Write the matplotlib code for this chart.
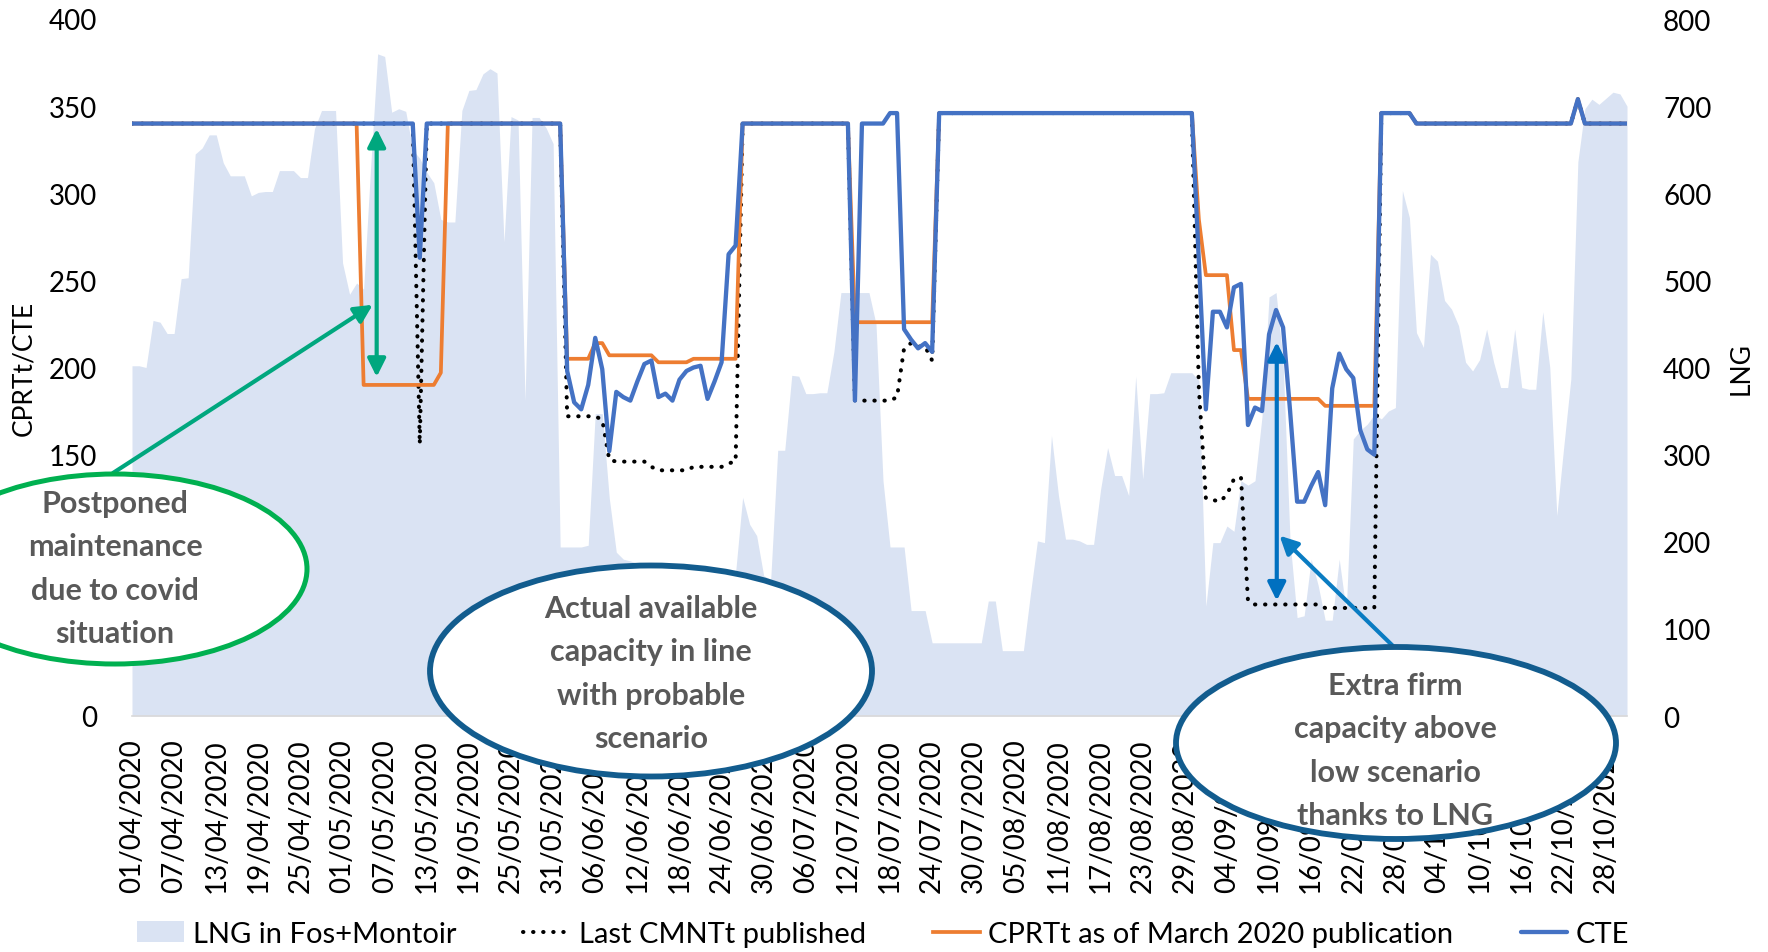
import numpy as np
import pandas as pd
import matplotlib
matplotlib.use("Agg")
import matplotlib.pyplot as plt
from matplotlib.patches import Ellipse

plt.rcParams['font.family'] = ['Lato', 'DejaVu Sans']

# daily data, 01/04/2020 -> 31/10/2020
dates = pd.date_range('2020-04-01', '2020-10-31', freq='D')

# LNG in Fos+Montoir (right axis)
lng = [402, 402, 400, 454, 452, 439, 439, 502, 503, 645,
       652, 667, 667, 635, 620, 620, 620, 597, 601, 602,
       602, 626, 626, 626, 618, 618, 674, 695, 695, 695,
       520, 484, 497, 490, 630, 760, 757, 693, 697, 694,
       650, 640, 624, 612, 570, 567, 567, 695, 718, 719,
       737, 743, 738, 544, 688, 684, 362, 687, 687, 675,
       657, 194, 194, 194, 194, 196, 347, 347, 250, 188,
       180, 178, 175, 160, 150, 140, 130, 120, 120, 110,
       110, 120, 130, 140, 150, 160, 165, 251, 220, 207,
       161, 157, 305, 305, 391, 390, 370, 370, 371, 371,
       418, 486, 486, 486, 486, 486, 450, 270, 194, 194,
       194, 121, 121, 121, 84, 84, 84, 84, 84, 84,
       84, 84, 132, 132, 75, 75, 75, 75, 140, 201,
       199, 322, 253, 203, 203, 201, 197, 197, 260, 308,
       276, 276, 253, 390, 272, 370, 370, 371, 394, 394,
       394, 394, 385, 126, 199, 199, 218, 212, 270, 265,
       270, 344, 481, 486, 407, 200, 113, 115, 180, 150,
       110, 110, 180, 120, 318, 328, 335, 346, 341, 350,
       354, 603, 572, 440, 423, 530, 522, 477, 467, 448,
       406, 396, 409, 444, 406, 377, 377, 444, 377, 375,
       375, 464, 400, 230, 310, 387, 636, 697, 708, 702,
       709, 716, 714, 700]

# Last CMNTt published
cmnt = ([340] * 41 + [156] + [340] * 20
        + [172, 172, 172, 172, 172, 170]
        + [147, 146, 146, 146, 146, 146, 143]
        + [141] * 5 + [143] * 5 + [145, 146]
        + [340] * 16 + [181] * 6 + [183]
        + [211, 214, 212, 212, 204]
        + [346] * 37
        + [188, 125, 124, 123, 127, 136, 137, 66]
        + [64] * 10 + [62] * 8
        + [346] * 5 + [340] * 23 + [354] + [340] * 7)

# CPRTt as of March 2020 publication
cprt = ([340] * 33 + [190] * 11 + [197] + [340] * 17
        + [205] * 4 + [214] * 2 + [207] * 7 + [203] * 5 + [205] * 7
        + [340] * 16 + [226] * 12 + [346] * 37
        + [285] + [253] * 4 + [210] * 2 + [182] * 11 + [178] * 8
        + [346] * 5 + [340] * 23 + [354] + [340] * 7)

# CTE
cte = ([340] * 41 + [263] + [340] * 20
       + [198, 180, 176, 190, 217, 199, 152, 186, 183, 181,
          192, 202, 204, 183, 185, 181, 193, 198, 200, 201,
          182, 192, 203, 265, 270]
       + [340] * 16 + [181] + [340] * 4 + [346] * 2
       + [222, 216, 211, 214, 209]
       + [346] * 37
       + [261, 176, 232, 232, 223, 246, 248, 167, 177, 175,
          219, 233, 223, 175, 123, 123, 132, 140, 121, 188,
          208, 199, 194, 164, 153, 150]
       + [346] * 5 + [340] * 23 + [354] + [340] * 7)

left_ticks = [0, 50, 100, 150, 200, 250, 300, 350, 400]
# 50 and 100 sit behind the green callout in the original
left_labels = ['0', '', '', '150', '200', '250', '300', '350', '400']

x = np.arange(len(dates))
W, H = 1768, 953

fig = plt.figure(figsize=(W / 100, H / 100), dpi=100)
ax = fig.add_axes([132 / W, 236 / H, 1495 / W, 697 / H])
ax2 = ax.twinx()
ax.set_zorder(2)
ax.patch.set_visible(False)

area = ax2.fill_between(x, lng, color='#DAE3F3', lw=0, label='LNG in Fos+Montoir')
l_cmnt, = ax.plot(x, cmnt, color='black', lw=2.9, linestyle=(0, (0.1, 2.4)),
                  dash_capstyle='round', label='Last CMNTt published')
l_cprt, = ax.plot(x, cprt, color='#ED7D31', lw=2.7,
                  label='CPRTt as of March 2020 publication')
l_cte, = ax.plot(x, cte, color='#4472C4', lw=3.1, solid_capstyle='round', label='CTE')

ax.set_xlim(0, len(x) - 1)
ax.set_ylim(0, 400)
ax2.set_ylim(0, 800)
ax.set_yticks(left_ticks)
ax.set_yticklabels(left_labels)
ax2.set_yticks(range(0, 801, 100))
ax.set_xticks(x[::6])
ax.set_xticklabels(dates[::6].strftime('%d/%m/%Y'), rotation=90)

for s in ax.spines.values():
    s.set_visible(False)
for s in ax2.spines.values():
    s.set_visible(False)
ax.spines['bottom'].set_visible(True)
ax.spines['bottom'].set_color('#D9D9D9')
ax.spines['bottom'].set_linewidth(1.2)

ax.tick_params(axis='x', length=0, labelsize=20, pad=16)
ax.tick_params(axis='y', length=0, labelsize=20, pad=25)
ax2.tick_params(axis='y', length=0, labelsize=20, pad=26)

ax.set_ylabel('CPRTt/CTE', fontsize=19)
ax.yaxis.set_label_coords(-0.0642, 0.5)
ax2.set_ylabel('LNG', fontsize=19, rotation=90)
ax2.yaxis.set_label_coords(1.068, 0.5)

# arrows
green = '#00A77E'
blue = '#0070C0'
ax.annotate('', xy=(34.86, 337), xytext=(34.86, 194.6),
            arrowprops=dict(arrowstyle='<|-|>', color=green, lw=3,
                            mutation_scale=27, shrinkA=0, shrinkB=0))
ax.annotate('', xy=(34.3, 236), xytext=(113, H - 474), textcoords='figure pixels',
            arrowprops=dict(arrowstyle='-|>', color=green, lw=3,
                            mutation_scale=27, shrinkA=0, shrinkB=0))
ax.annotate('', xy=(163.1, 214.6), xytext=(163.1, 66.2),
            arrowprops=dict(arrowstyle='<|-|>', color=blue, lw=3,
                            mutation_scale=27, shrinkA=0, shrinkB=0))
ax.annotate('', xy=(163.5, 103.5), xytext=(1394, H - 648), textcoords='figure pixels',
            arrowprops=dict(arrowstyle='-|>', color='#0A7CC2', lw=3,
                            mutation_scale=27, shrinkA=0, shrinkB=0))

# callout ellipses: centre, size, edge colour, edge width, text centre, text
notes = [
    ((115, 570), (384, 190), '#00B050', 3.6, (115, 569),
     'Postponed\nmaintenance\ndue to covid\nsituation'),
    ((651, 672), (442, 211), '#125C8E', 4.2, (651, 674),
     'Actual available\ncapacity in line\nwith probable\nscenario'),
    ((1396, 744), (440, 192), '#125C8E', 4.2, (1395, 751),
     'Extra firm\ncapacity above\nlow scenario\nthanks to LNG'),
]
for (cx, cy), (ew, eh), ec, lw, (tx, ty), txt in notes:
    fig.add_artist(Ellipse((cx / W, 1 - cy / H), ew / W, eh / H,
                           transform=fig.transFigure, facecolor='white',
                           edgecolor=ec, lw=lw, zorder=5))
    fig.text(tx / W, 1 - ty / H, txt, ha='center', va='center', fontsize=22,
             fontweight='bold', color='#595959', linespacing=1.66, zorder=6)

fig.legend(handles=[area, l_cmnt, l_cprt, l_cte], loc='center',
           bbox_to_anchor=(0.4996, 0.019), ncol=4, frameon=False, fontsize=21,
           handlelength=1.6, handletextpad=0.3, columnspacing=2.3)

fig.savefig('out.png', dpi=100)
